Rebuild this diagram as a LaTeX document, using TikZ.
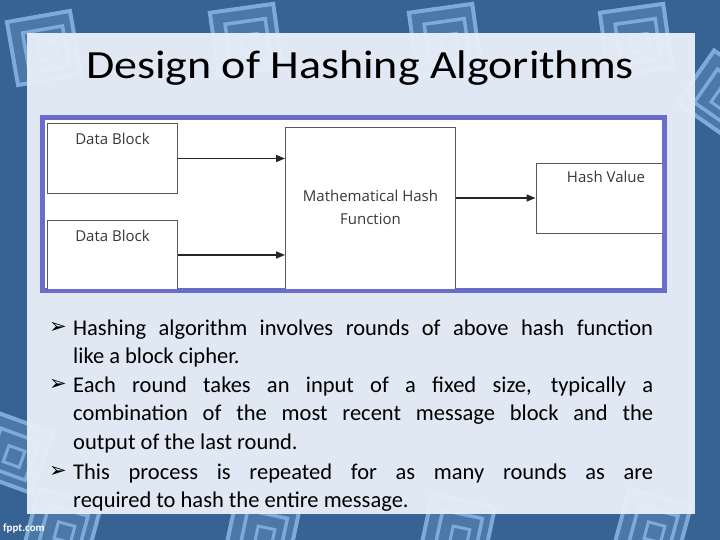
\documentclass[tikz,border=0pt]{standalone}
\usepackage{fontspec}
\setmainfont{Carlito}
\newfontfamily\titlefont{Carlito}[FakeStretch=1.15]
\newfontfamily\diagfont{Open Sans}
\newfontfamily\symfont{DejaVu Sans}
\usetikzlibrary{positioning, arrows.meta}
\definecolor{slidebg}{HTML}{366294}
\definecolor{panelbg}{HTML}{E6EEF7}
\definecolor{framecol}{HTML}{6B6EC8}
\definecolor{decocol}{HTML}{7EAAD8}

\begin{document}
\begin{tikzpicture}[
    x=1pt, y=-1pt,
    deco/.style={draw=decocol, fill=decocol!30!slidebg},
    blk/.style={rectangle, draw=black!65, line width=0.9pt, fill=white, inner sep=0pt},
    lbl/.style={font=\diagfont\fontsize{15}{23}\selectfont, text=black!78, align=center, inner sep=0pt},
    arr/.style={-{Triangle[length=9pt, width=7pt]}, line width=1.4pt, draw=black!85},
    bulletmark/.style={font=\symfont\fontsize{21}{22}\selectfont, inner sep=0pt},
    bullettext/.style={anchor=north west, text width=580pt, align=justify, inner sep=0pt, font=\fontsize{22.5}{28.6}\selectfont}
]
    \useasboundingbox (0,0) rectangle (720,540);
    \fill[slidebg] (0,0) rectangle (720,540);

    % background motifs
    \foreach \cx/\cy/\ang in {44/48/10, 246/40/8, 445/40/8, 636/40/8, 722/95/-35, 12/452/-20,
                              62/528/-15, 262/532/-12, 457/532/-12, 652/528/-15}{
        \foreach \s/\w in {32/4, 22/3.5, 12/3}
            \draw[deco, line width=\w pt, rotate around={\ang:(\cx,\cy)}]
                (\cx-\s+0.35*32-0.35*\s,\cy-\s+0.35*32-0.35*\s) rectangle (\cx+\s,\cy+\s);
    }

    % panel
    \fill[panelbg, fill opacity=0.97] (27,33) rectangle (695,514);
    \node[font=\titlefont\fontsize{40}{48}\selectfont] (title) at (360,68) {Design of Hashing Algorithms};

    % picture of the hash design
    \draw[framecol, fill=white, line width=5pt] (42.5,117.5) rectangle (664.5,290.5);
    \begin{scope}
        \clip (45,120) rectangle (662,288);
        \node[blk, minimum width=130pt, minimum height=70pt] (db1) at (112.5,158.5) {};
        \node[blk, minimum width=130pt, minimum height=70pt] (db2) at (112.5,255) {};
        \node[blk, minimum width=170pt, minimum height=170pt] (fn) at (370.5,212) {};
        \node[blk, minimum width=140pt, minimum height=70pt] (hv) at (606,198) {};
        \node[lbl, anchor=north] (db1t) at (db1.north) [yshift=-10pt] {Data Block};
        \node[lbl, anchor=north] (db2t) at (db2.north) [yshift=-10pt] {Data Block};
        \node[lbl] (fnt) at (370.5,207) {Mathematical Hash\\Function};
        \node[lbl, anchor=north] (hvt) at (hv.north) [yshift=-8pt] {Hash Value};
        \draw[arr] (db1.east) -- (db1.east -| fn.west);
        \draw[arr] (db2.east) -- (db2.east -| fn.west);
        \draw[arr] (hv.west -| fn.east) -- (hv.west);
    \end{scope}

    % bullet points
    \node[bulletmark] (m1) at (58,328) {➢};
    \node[bulletmark] (m2) at (58,385) {➢};
    \node[bulletmark] (m3) at (58,472) {➢};
    \node[bullettext] (p1) at (73,319.5) {Hashing algorithm involves rounds of above hash function\linebreak like a block cipher.};
    \node[bullettext] (p2) at (73,376.5) {Each round takes an input of a fixed size, typically a\linebreak combination of the most recent message block and the\linebreak output of the last round.};
    \node[bullettext] (p3) at (73,463.5) {This process is repeated for as many rounds as are\linebreak required to hash the entire message.};

    \node[font=\bfseries\fontsize{11}{13}\selectfont, text=white, anchor=west, inner sep=0pt] (site) at (3,529) {fppt.com};
\end{tikzpicture}
\end{document}
